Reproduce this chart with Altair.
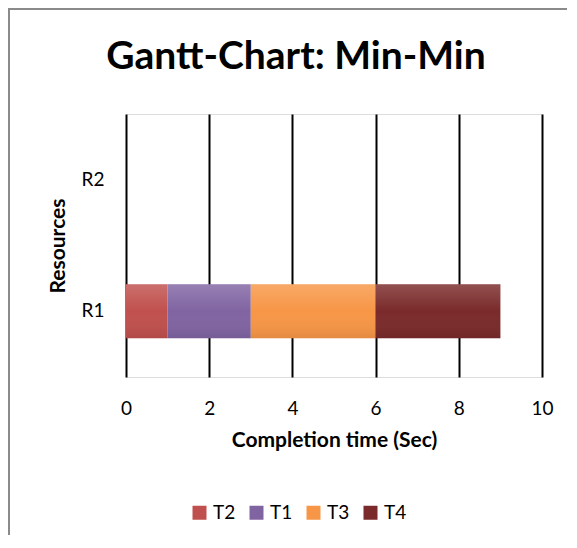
import altair as alt
import pandas as pd

resources = ["R1", "R1", "R1", "R1"]
tasks = ["T2", "T1", "T3", "T4"]
starts = [0, 1, 3, 6]
ends = [1, 3, 6, 9]
resource_order = ["R2", "R1"]
task_colors = ["#C0504D", "#8064A2", "#F79646", "#7A2A2A"]
x_ticks = [0, 2, 4, 6, 8, 10]

df = pd.DataFrame({"Resource": resources, "Task": tasks, "Start": starts, "End": ends})

FONT = "Lato"
FS = 19
TFS = 21

x_enc = alt.X("Start:Q", scale=alt.Scale(domain=[0, 10], nice=False),
              axis=alt.Axis(values=x_ticks, title="Completion time (Sec)", grid=True,
                            gridColor="#000000", gridWidth=2, gridOpacity=1,
                            domain=False, ticks=False, labelPadding=22, labelFlush=False,
                            labelFontSize=FS, labelColor="#000000", labelFont=FONT,
                            titleFont=FONT, titleFontSize=TFS, titleFontWeight="bold",
                            titleColor="#000000", titlePadding=11))
y_enc = alt.Y("Resource:N", scale=alt.Scale(domain=resource_order, paddingInner=0, paddingOuter=0),
              axis=alt.Axis(title="Resources", domain=False, ticks=False, grid=False,
                            labelPadding=22, labelFontSize=FS, labelColor="#000000",
                            labelFont=FONT, titleFont=FONT, titleFontSize=TFS,
                            titleFontWeight="bold", titleColor="#000000", titlePadding=13))

bars = alt.Chart(df).mark_bar(size=54, opacity=1).encode(
    x=x_enc,
    x2="End:Q",
    y=y_enc,
    color=alt.Color("Task:N", scale=alt.Scale(domain=tasks, range=task_colors),
                    legend=alt.Legend(title=None, orient="none", direction="horizontal",
                                      legendX=64, legendY=389, symbolType="square",
                                      symbolSize=196, symbolStrokeWidth=0,
                                      labelFontSize=FS, labelFont=FONT, labelColor="#000000",
                                      labelOffset=4, columnPadding=11)),
    order=alt.Order("Start:Q"),
)

shade = alt.Chart(df).mark_bar(
    size=54,
    fill=alt.LinearGradient(
        gradient="linear", x1=0, x2=0, y1=0, y2=1,
        stops=[alt.GradientStop(offset=0, color="rgba(255,255,255,0.18)"),
               alt.GradientStop(offset=0.5, color="rgba(255,255,255,0)"),
               alt.GradientStop(offset=1, color="rgba(0,0,0,0.08)")]),
).encode(x="Start:Q", x2="End:Q", y="Resource:N")

frame_df = pd.DataFrame({"k": [0]})
top_line = alt.Chart(frame_df).mark_rule(color="#8A8A8A", strokeWidth=2).encode(
    x=alt.value(-118), x2=alt.value(460), y=alt.value(-105))
left_line = alt.Chart(frame_df).mark_rule(color="#8A8A8A", strokeWidth=2).encode(
    x=alt.value(-117), y=alt.value(-106), y2=alt.value(470))

chart = alt.layer(bars, shade, top_line, left_line).properties(
    width=416, height=263,
    title=alt.TitleParams("Gantt-Chart: Min-Min", font=FONT, fontSize=39, fontWeight="bold",
                          color="#000000", anchor="middle", dx=-38, offset=40, dy=110),
    autosize=alt.AutoSizeParams(type="none"),
    padding={"left": 118, "top": 106, "right": 25, "bottom": 158},
).configure_view(stroke=None).configure(background="#FFFFFF")

chart.save("out.html", embed_options={"renderer": "svg", "actions": False})
